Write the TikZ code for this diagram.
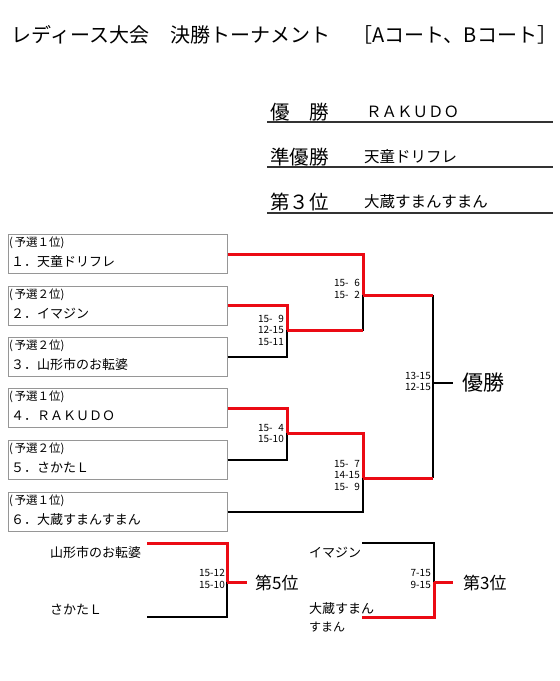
\documentclass[tikz,border=0pt]{standalone}
\usepackage{fontspec}
\setmainfont{Noto Sans CJK JP}
\definecolor{lred}{RGB}{235,10,20}
\definecolor{boxgray}{RGB}{150,150,150}
\begin{document}
\begin{tikzpicture}[x=1pt,y=-1pt,
  win/.style={draw=lred,line width=3pt,line join=miter},
  lose/.style={draw=black,line width=2pt,line join=miter},
  entry/.style={draw=boxgray,line width=1pt,minimum width=219pt,minimum height=39pt,inner sep=0pt},
  seed/.style={anchor=west,inner sep=0pt,font=\fontsize{11.5}{13}\selectfont},
  team/.style={anchor=west,inner sep=0pt,font=\fontsize{13}{15}\selectfont},
  score/.style={anchor=east,inner sep=0pt,align=right,font=\fontsize{10}{11.5}\selectfont},
  ttl/.style={anchor=west,inner sep=0pt,font=\fontsize{20}{22}\selectfont},
  reslbl/.style={anchor=west,inner sep=0pt,font=\fontsize{19.5}{22}\selectfont},
  resname/.style={anchor=west,inner sep=0pt,font=\fontsize{15.5}{18}\selectfont},
  place/.style={anchor=west,inner sep=0pt,font=\fontsize{17}{20}\selectfont},
  uline/.style={draw=black!80,line width=1.6pt}]
\useasboundingbox (0,0) rectangle (560,681);
% title
\node[ttl] (t1) at (11.5,35) {レディース大会};
\node[ttl] (t2) at (170,35) {決勝トーナメント};
\node[ttl] (t3) at (352,35) {［Aコート、Bコート］};
% results
\node[reslbl] (r1) at (270,112) {優　勝};
\node[resname] (r1n) at (366,112) {ＲＡＫＵＤＯ};
\node[reslbl] (r2) at (270,157) {準優勝};
\node[resname] (r2n) at (364,157) {天童ドリフレ};
\node[reslbl] (r3) at (270,202) {第３位};
\node[resname] (r3n) at (364,202) {大蔵すまんすまん};
\coordinate (u1a) at (267,122); \coordinate (u1b) at (553,122);
\coordinate (u2a) at (267,167); \coordinate (u2b) at (553,167);
\coordinate (u3a) at (267,213); \coordinate (u3b) at (553,213);
\draw[uline] (u1a) -- (u1b);
\draw[uline] (u2a) -- (u2b);
\draw[uline] (u3a) -- (u3b);
% entry boxes
\node[entry] (b1) at (117.5,254) {};
\node[entry] (b2) at (117.5,305.5) {};
\node[entry] (b3) at (117.5,356.5) {};
\node[entry] (b4) at (117.5,408) {};
\node[entry] (b5) at (117.5,459.5) {};
\node[entry] (b6) at (117.5,511.5) {};
\node[seed] (b1s) at (9,243) {(\kern1.5pt 予選１位)};
\node[team] (b1t) at (11,262) {１．天童ドリフレ};
\node[seed] (b2s) at (9,294.5) {(\kern1.5pt 予選２位)};
\node[team] (b2t) at (11,313.5) {２．イマジン};
\node[seed] (b3s) at (9,345.5) {(\kern1.5pt 予選２位)};
\node[team] (b3t) at (11,364.5) {３．山形市のお転婆};
\node[seed] (b4s) at (9,397) {(\kern1.5pt 予選１位)};
\node[team] (b4t) at (11,416) {４．ＲＡＫＵＤＯ};
\node[seed] (b5s) at (9,448.5) {(\kern1.5pt 予選２位)};
\node[team] (b5t) at (11,467.5) {５．さかたＬ};
\node[seed] (b6s) at (9,500.5) {(\kern1.5pt 予選１位)};
\node[team] (b6t) at (11,519.5) {６．大蔵すまんすまん};
% junctions
\coordinate (j1) at (287,330);
\coordinate (j2) at (363,295);
\coordinate (j3) at (287,433);
\coordinate (j4) at (363,478);
\coordinate (jf) at (433,383);
\coordinate (fo) at (453,383);
% main bracket
\draw[lose] (b3.east) -| (j1);
\draw[win] (b2.east) -| (j1);
\draw[lose] (j1) -| (j2);
\draw[win] (j1) -- (j1 -| j2);
\draw[win] (b1.east) -| (j2);
\draw[lose] (b5.east) -| (j3);
\draw[win] (b4.east) -| (j3);
\draw[lose] (b6.east) -| (j4);
\draw[win] (j3) -| (j4);
\draw[lose] (j2 -| jf) -- (j4 -| jf);
\draw[win] (j2) -- (j2 -| jf);
\draw[win] (j4) -- (j4 -| jf);
\draw[lose] (jf) -- (fo);
\node[anchor=west,inner sep=0pt,font=\fontsize{21}{24}\selectfont] (champ) at (462,383) {優勝};
% scores
\node[score] (s1) at (284,330) {15-\hphantom{1}9\\12-15\\15-11};
\node[score] (s2) at (360,289) {15-\hphantom{1}6\\15-\hphantom{1}2};
\node[score] (s3) at (284,433.5) {15-\hphantom{1}4\\15-10};
\node[score] (s4) at (360,475) {15-\hphantom{1}7\\14-15\\15-\hphantom{1}9};
\node[score] (sf) at (431,381.5) {13-15\\12-15};
% 5th place
\node[team] (n5a) at (50,553) {山形市のお転婆};
\node[team] (n5b) at (50,610) {さかたＬ};
\coordinate (l5a) at (147,543);
\coordinate (l5b) at (147,617);
\coordinate (k5) at (227,582);
\coordinate (o5) at (247,582);
\draw[lose] (l5b) -| (k5);
\draw[win] (l5a) -| (k5);
\draw[win] (k5) -- (o5);
\node[score] (s5) at (225,579) {15-12\\15-10};
\node[place] (p5) at (255,583) {第5位};
% 3rd place
\node[team] (n3a) at (309,553) {イマジン};
\node[team] (n3b) at (309,609) {大蔵すまん};
\node[anchor=west,inner sep=0pt,font=\fontsize{12}{14}\selectfont] (n3c) at (309,627) {すまん};
\coordinate (l3a) at (362,543);
\coordinate (l3b) at (362,617);
\coordinate (k3) at (434,582);
\coordinate (o3) at (453,582);
\draw[lose] (l3a) -| (k3);
\draw[win] (l3b) -| (k3);
\draw[win] (k3) -- (o3);
\node[score] (s6) at (431,579) {7-15\\9-15};
\node[place] (p3) at (463,583) {第3位};
\end{tikzpicture}
\end{document}
